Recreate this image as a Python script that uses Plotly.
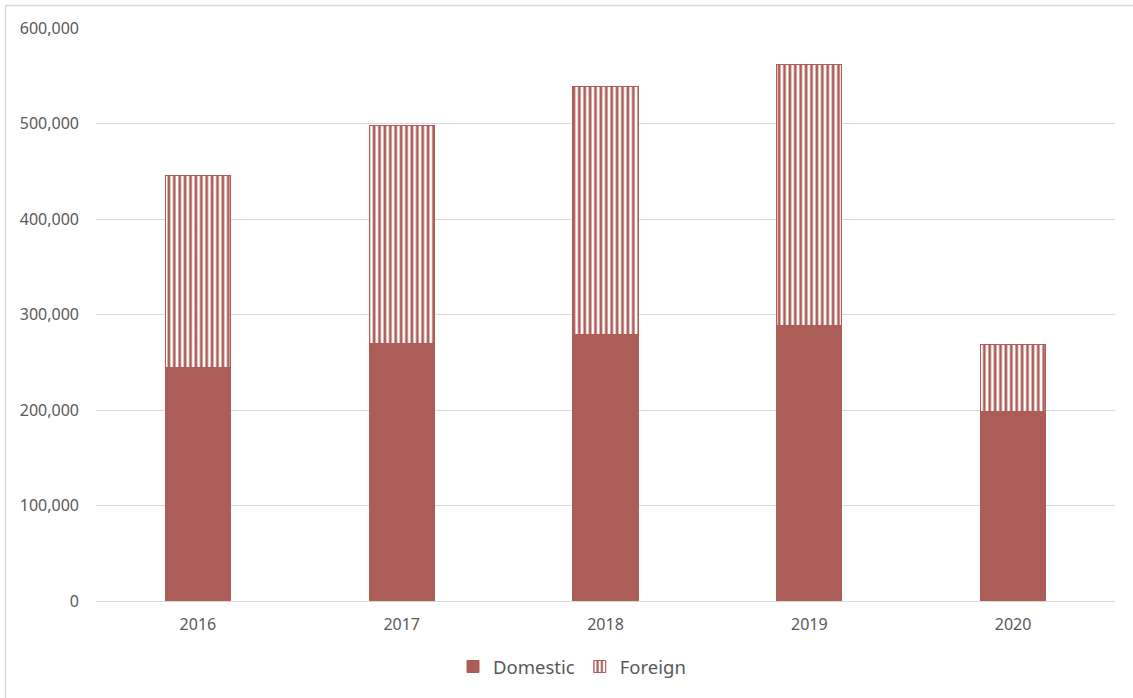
import plotly.graph_objects as go

years = ["2016", "2017", "2018", "2019", "2020"]
domestic = [245000, 270000, 279500, 289000, 198500]
foreign = [201000, 227500, 259000, 272500, 70500]

RED = "#AD5D57"
GRID = "#D9D9D9"
TXT = "#595959"
FONT = "Noto Sans"

fig = go.Figure()
fig.add_trace(go.Bar(
    name="Domestic", x=years, y=domestic,
    marker=dict(color=RED, line=dict(color=RED, width=1)),
))
fig.add_trace(go.Bar(
    name="Foreign", x=years, y=foreign,
    marker=dict(
        color="white",
        line=dict(color=RED, width=1),
        pattern=dict(shape="|", fgcolor=RED, bgcolor="white", size=5.4,
                     solidity=0.5, fillmode="replace"),
    ),
))

W, H = 1133, 698
L, R, T, B = 96, 18, 28, 97
pw, ph = W - L - R, H - T - B

fig.update_layout(
    width=W, height=H,
    barmode="stack", bargap=0.68,
    paper_bgcolor="white", plot_bgcolor="white",
    margin=dict(l=L, r=R, t=T, b=B, pad=0),
    font=dict(family=FONT, color=TXT, size=16),
    legend=dict(orientation="h", x=(572 - L) / pw, xanchor="center",
                y=-0.082, yanchor="top", font=dict(size=18.5, color=TXT),
                itemwidth=30, traceorder="normal"),
    xaxis=dict(showgrid=False, showline=True, linecolor=GRID, linewidth=1,
               ticks="", ticklabelstandoff=9, tickfont=dict(size=16, color=TXT)),
    yaxis=dict(range=[0, 600000], dtick=100000, tickformat=",d",
               showgrid=True, gridcolor=GRID, gridwidth=1,
               zeroline=False, showline=False, ticks="",
               ticklabelstandoff=16, tickfont=dict(size=16, color=TXT)),
    shapes=[dict(type="rect", xref="paper", yref="paper",
                 x0=(5.5 - L) / pw, x1=(W + 10 - L) / pw,
                 y0=(T + ph - (H + 10)) / ph, y1=(T + ph - 5.5) / ph,
                 line=dict(color=GRID, width=1.5), layer="below")],
)

fig.write_html(
    "out.html",
    config={"displayModeBar": False},
    post_script="document.body.style.margin='0';document.body.style.overflow='hidden';",
)
